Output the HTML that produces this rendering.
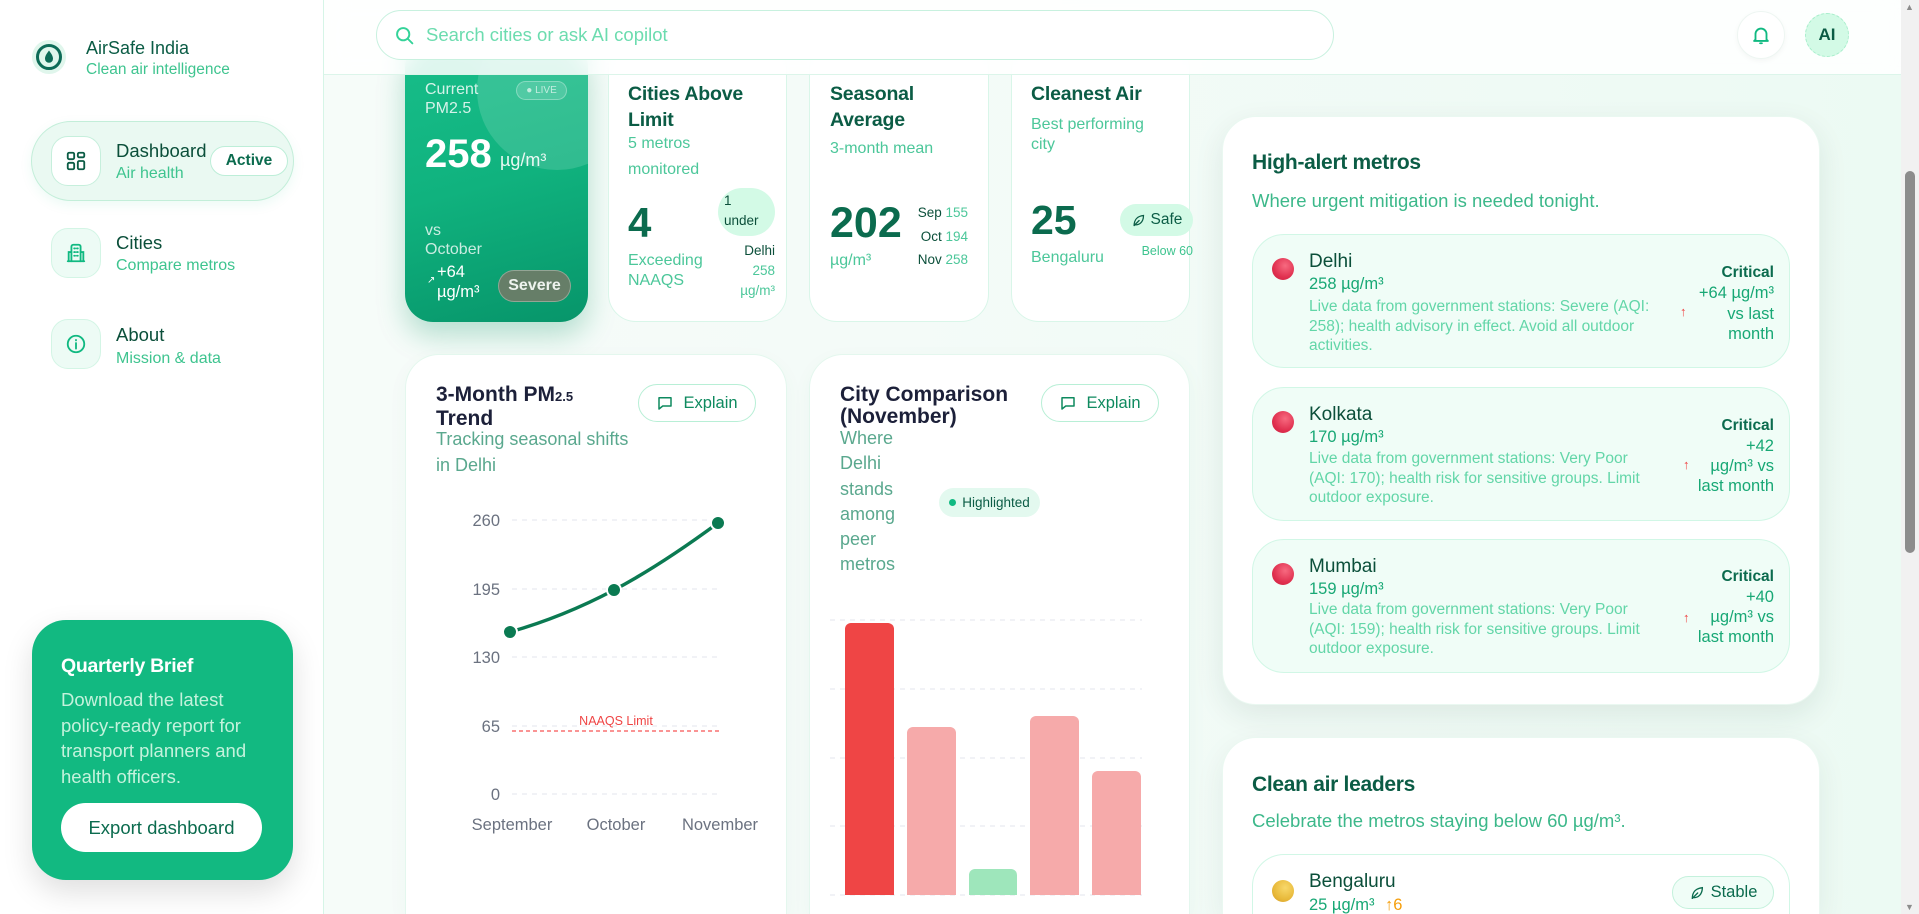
<!DOCTYPE html>
<html><head><meta charset="utf-8">
<style>
*{box-sizing:border-box;margin:0;padding:0}
html,body{width:1919px;height:914px;overflow:hidden;font-family:"Liberation Sans",Arial,sans-serif;}
#root{position:relative;width:1919px;height:914px;overflow:hidden;background:linear-gradient(90deg,#f8fcfa 0%,#f4fbf8 45%,#ecfaf3 100%);}
.a{position:absolute}
.t{position:absolute;white-space:nowrap}
.card{position:absolute;background:#fff;border:1.5px solid #d9f6e9;border-radius:28px}
.dk{color:#0b4f3a}
.gr{color:#3ec48f}
.btn{position:absolute;background:#fff;border:1.5px solid #b8efd6;border-radius:19px;display:flex;align-items:center;justify-content:center;gap:9px;color:#0e8a5f;font-size:16.5px}
.item{position:absolute;left:1252px;width:538px;height:134px;border-radius:32px;background:#f0fdf7;border:1.5px solid #d1f7e6}
.dot{position:absolute;width:22px;height:22px;border-radius:50%;background:radial-gradient(circle at 60% 35%,#f76a80 0%,#e0304f 60%,#c81e3f 100%)}
</style></head><body>
<div id="root">

<!-- sidebar -->
<div class="a" style="left:0;top:0;width:324px;height:914px;background:#fff;border-right:1px solid #d6f5e7"></div>
<svg class="a" style="left:32px;top:40px" width="34" height="34" viewBox="0 0 34 34"><circle cx="17" cy="17" r="17" fill="#e0f6ec"/><circle cx="17" cy="17" r="11.5" fill="none" stroke="#0d6b57" stroke-width="3"/><path d="M17 10.5 C14.5 14 13 16 13 18.8 a4 4 0 0 0 8 0 C21 16 19.5 14 17 10.5Z" fill="#0d6b57"/></svg>
<div class="t" style="left:86px;top:37px;font-size:18px;line-height:22px;color:#0b5c45">AirSafe India</div>
<div class="t gr" style="left:86px;top:61px;font-size:15.5px;line-height:18px">Clean air intelligence</div>

<div class="a" style="left:31px;top:121px;width:263px;height:80px;border-radius:40px;background:#eaf9f2;border:1.5px solid #c3eed9;box-shadow:0 4px 12px rgba(16,185,129,.08)"></div>
<div class="a" style="left:51px;top:136px;width:50px;height:50px;border-radius:17px;background:#fff;border:1.5px solid #c6efdc;display:flex;align-items:center;justify-content:center">
<svg width="22" height="22" viewBox="0 0 24 24" fill="none" stroke="#0b5c45" stroke-width="2"><rect x="3" y="3" width="7" height="7" rx="1.5"/><rect x="14" y="3" width="7" height="5" rx="1.5"/><rect x="3" y="14" width="7" height="7" rx="1.5"/><rect x="14" y="12" width="7" height="9" rx="1.5"/></svg></div>
<div class="t dk" style="left:116px;top:140px;font-size:18.5px;line-height:22px">Dashboard</div>
<div class="t gr" style="left:116px;top:165px;font-size:16px;line-height:18px">Air health</div>
<div class="a" style="left:210px;top:146px;width:78px;height:30px;border-radius:15px;background:#fff;border:1.5px solid #bdeed8;text-align:center;font-size:15.5px;line-height:27px;font-weight:bold;color:#0b6b4e">Active</div>

<div class="a" style="left:51px;top:228px;width:50px;height:50px;border-radius:17px;background:#edfbf5;border:1.5px solid #d3f5e5;display:flex;align-items:center;justify-content:center">
<svg width="22" height="22" viewBox="0 0 24 24" fill="none" stroke="#10b981" stroke-width="2" stroke-linecap="round"><path d="M7 21V5a2 2 0 0 1 2-2h6a2 2 0 0 1 2 2v16"/><path d="M3 21h18"/><path d="M10 7h1M13 7h1M10 11h1M13 11h1M10 15h1M13 15h1"/><path d="M4 21V11h3M20 21V11h-3"/></svg></div>
<div class="t dk" style="left:116px;top:232px;font-size:18.5px;line-height:22px">Cities</div>
<div class="t gr" style="left:116px;top:257px;font-size:16px;line-height:18px">Compare metros</div>

<div class="a" style="left:51px;top:319px;width:50px;height:50px;border-radius:17px;background:#edfbf5;border:1.5px solid #d3f5e5;display:flex;align-items:center;justify-content:center">
<svg width="22" height="22" viewBox="0 0 24 24" fill="none" stroke="#10b981" stroke-width="2" stroke-linecap="round"><circle cx="12" cy="12" r="9"/><path d="M12 11v6M12 7.5v.5"/></svg></div>
<div class="t dk" style="left:116px;top:324px;font-size:18.5px;line-height:22px">About</div>
<div class="t gr" style="left:116px;top:350px;font-size:16px;line-height:18px">Mission &amp; data</div>

<div class="a" style="left:32px;top:620px;width:261px;height:260px;border-radius:34px;background:#12b981;box-shadow:0 12px 30px rgba(0,0,0,.13)"></div>
<div class="t" style="left:61px;top:655px;font-size:19.5px;line-height:22px;font-weight:bold;color:#fff;letter-spacing:-.3px">Quarterly Brief</div>
<div class="t" style="left:61px;top:687px;font-size:18.5px;line-height:25.5px;color:#c4f2dc">Download the latest<br>policy-ready report for<br>transport planners and<br>health officers.</div>
<div class="a" style="left:61px;top:803px;width:201px;height:49px;border-radius:25px;background:#fff;text-align:center;line-height:49px;font-size:18.5px;color:#0b6b4e">Export dashboard</div>

<!-- KPI card 1 -->
<div class="a" style="left:405px;top:40px;width:183px;height:282px;border-radius:28px;background:linear-gradient(165deg,#18be8a 0%,#10b27e 50%,#07956a 100%);box-shadow:0 14px 28px rgba(16,150,100,.28);overflow:hidden">
<div class="a" style="left:72px;top:-30px;width:160px;height:160px;border-radius:50%;background:rgba(255,255,255,.14)"></div></div>
<div class="t" style="left:425px;top:80px;font-size:16px;line-height:19px;color:rgba(255,255,255,.82)">Current<br>PM2.5</div>
<div class="a" style="left:516px;top:81px;width:51px;height:19px;border-radius:10px;background:rgba(255,255,255,.14);border:1px solid rgba(255,255,255,.3);text-align:center;font-size:10px;line-height:17px;color:rgba(255,255,255,.65)">● LIVE</div>
<div class="t" style="left:425px;top:131px;font-size:40px;line-height:46px;font-weight:bold;color:#fff">258</div>
<div class="t" style="left:500px;top:150px;font-size:18px;line-height:20px;color:rgba(255,255,255,.9)">µg/m³</div>
<div class="t" style="left:425px;top:221px;font-size:16px;line-height:19px;color:rgba(255,255,255,.78)">vs<br>October</div>
<div class="t" style="left:427px;top:275px;font-size:10px;line-height:12px;color:#fff">↗</div>
<div class="t" style="left:437px;top:262px;font-size:16.5px;line-height:20px;color:#fff">+64<br>µg/m³</div>
<div class="a" style="left:498px;top:270px;width:73px;height:32px;border-radius:16px;background:#667e68;border:1.5px solid rgba(255,255,255,.3);text-align:center;font-size:16px;line-height:29px;font-weight:bold;color:#eef3ee">Severe</div>

<!-- KPI card 2 -->
<div class="card" style="left:608px;top:40px;width:179px;height:282px"></div>
<div class="t" style="left:628px;top:81px;font-size:19.5px;line-height:26px;font-weight:bold;color:#0b5c45;letter-spacing:-.2px">Cities Above<br>Limit</div>
<div class="t" style="left:628px;top:131px;font-size:16px;line-height:26px;color:#4cc79a">5 metros<br>monitored</div>
<div class="t" style="left:628px;top:199px;font-size:42px;line-height:48px;font-weight:bold;color:#0b6b4e">4</div>
<div class="t" style="left:628px;top:251px;font-size:16px;line-height:19.5px;color:#4cc79a">Exceeding<br>NAAQS</div>
<div class="a" style="left:718px;top:188px;width:57px;height:48px;border-radius:24px;background:#d3fae6"></div>
<div class="t dk" style="left:724px;top:191px;font-size:13.5px;line-height:20px">1<br>under</div>
<div class="a" style="left:690px;top:241px;width:85px;text-align:right;font-size:13.5px;line-height:20px;color:#4cc79a"><span class="dk">Delhi</span><br>258<br>µg/m³</div>

<!-- KPI card 3 -->
<div class="card" style="left:809px;top:40px;width:180px;height:282px"></div>
<div class="t" style="left:830px;top:81px;font-size:19.5px;line-height:26px;font-weight:bold;color:#0b5c45;letter-spacing:-.2px">Seasonal<br>Average</div>
<div class="t" style="left:830px;top:139px;font-size:16px;line-height:20px;color:#4cc79a">3-month mean</div>
<div class="t" style="left:830px;top:199px;font-size:43px;line-height:48px;font-weight:bold;color:#0b6b4e">202</div>
<div class="t" style="left:830px;top:251px;font-size:16px;line-height:20px;color:#4cc79a">µg/m³</div>
<div class="a" style="left:890px;top:201px;width:78px;text-align:right;font-size:13.5px;line-height:23.5px;color:#4cc79a"><span class="dk">Sep</span> 155<br><span class="dk">Oct</span> 194<br><span class="dk">Nov</span> 258</div>

<!-- KPI card 4 -->
<div class="card" style="left:1011px;top:40px;width:179px;height:282px"></div>
<div class="t" style="left:1031px;top:81px;font-size:19.5px;line-height:26px;font-weight:bold;color:#0b5c45;letter-spacing:-.2px">Cleanest Air</div>
<div class="t" style="left:1031px;top:115px;font-size:16px;line-height:19.5px;color:#4cc79a">Best performing<br>city</div>
<div class="t" style="left:1031px;top:196px;font-size:41px;line-height:48px;font-weight:bold;color:#0b6b4e">25</div>
<div class="t" style="left:1031px;top:248px;font-size:16px;line-height:20px;color:#4cc79a">Bengaluru</div>
<div class="a" style="left:1120px;top:204px;width:73px;height:32px;border-radius:16px;background:#d3fae6;display:flex;align-items:center;justify-content:center;gap:5px;font-size:15.5px;color:#0b5c45">
<svg width="15" height="15" viewBox="0 0 24 24" fill="none" stroke="#0b5c45" stroke-width="2" stroke-linecap="round"><path d="M5 20c0-9 5-15 15-16 0 10-6 15-13 15"/><path d="M5 20l8-8"/></svg>Safe</div>
<div class="a" style="left:1110px;top:242px;width:83px;text-align:right;font-size:12.5px;line-height:18px;color:#3ec48f">Below 60</div>

<!-- chart cards -->
<div class="a" style="left:405px;top:354px;width:382px;height:560px;border-radius:34px 34px 0 0;background:#fff;border:1px solid #e4f7ee;border-bottom:none;box-shadow:0 6px 20px rgba(16,120,80,.04)"></div>
<div class="t" style="left:436px;top:384px;font-size:21px;line-height:22px;font-weight:bold;color:#1c2039">3-Month PM<span style="font-size:13px">2.5</span><br>Trend</div>
<div class="t" style="left:436px;top:426px;font-size:18px;line-height:26px;color:#5aa88e">Tracking seasonal shifts<br>in Delhi</div>
<div class="btn" style="left:638px;top:384px;width:118px;height:38px"><svg width="18" height="18" viewBox="0 0 24 24" fill="none" stroke="#0e8a5f" stroke-width="2" stroke-linejoin="round"><path d="M4 5h16v11H9l-5 4z"/></svg>Explain</div>

<div class="a" style="left:809px;top:354px;width:381px;height:560px;border-radius:34px 34px 0 0;background:#fff;border:1px solid #e4f7ee;border-bottom:none;box-shadow:0 6px 20px rgba(16,120,80,.04)"></div>
<div class="t" style="left:840px;top:384px;font-size:21px;line-height:22px;font-weight:bold;color:#1c2039">City Comparison<br>(November)</div>
<div class="t" style="left:840px;top:426px;font-size:18px;line-height:25.3px;color:#5aa88e">Where<br>Delhi<br>stands<br>among<br>peer<br>metros</div>
<div class="a" style="left:939px;top:488px;width:101px;height:29px;border-radius:15px;background:#e3f9ef;display:flex;align-items:center;justify-content:center;gap:6px;font-size:13.5px;color:#0b5c45"><span style="width:7px;height:7px;border-radius:50%;background:#10b981;display:inline-block"></span>Highlighted</div>
<div class="btn" style="left:1041px;top:384px;width:118px;height:38px"><svg width="18" height="18" viewBox="0 0 24 24" fill="none" stroke="#0e8a5f" stroke-width="2" stroke-linejoin="round"><path d="M4 5h16v11H9l-5 4z"/></svg>Explain</div>

<svg class="a" style="left:0;top:0" width="1919" height="914" viewBox="0 0 1919 914">
<g stroke="#e3e6ee" stroke-width="1" stroke-dasharray="5 5">
<line x1="512" y1="520" x2="720" y2="520"/><line x1="512" y1="589" x2="720" y2="589"/><line x1="512" y1="657" x2="720" y2="657"/><line x1="512" y1="726" x2="720" y2="726"/><line x1="512" y1="794" x2="720" y2="794"/>
<line x1="830" y1="620" x2="1142" y2="620"/><line x1="830" y1="689" x2="1142" y2="689"/><line x1="830" y1="758" x2="1142" y2="758"/><line x1="830" y1="826" x2="1142" y2="826"/><line x1="830" y1="895" x2="1142" y2="895"/>
</g>
<g font-family="Liberation Sans, Arial, sans-serif" font-size="16.5" fill="#6b7280" text-anchor="end">
<text x="500" y="526">260</text><text x="500" y="595">195</text><text x="500" y="663">130</text><text x="500" y="732">65</text><text x="500" y="800">0</text>
</g>
<line x1="512" y1="731" x2="720" y2="731" stroke="#f87171" stroke-width="1.6" stroke-dasharray="4 3"/>
<text x="616" y="725" font-family="Liberation Sans, Arial, sans-serif" font-size="12.5" fill="#ef4444" text-anchor="middle">NAAQS Limit</text>
<path d="M510,632 C545,622 580,608 614,590 C650,571 684,548 718,523" fill="none" stroke="#0b7a52" stroke-width="3.5" stroke-linecap="round"/>
<g fill="#0b7a52" stroke="#fff" stroke-width="2"><circle cx="510" cy="632" r="7"/><circle cx="614" cy="590" r="7"/><circle cx="718" cy="523" r="7"/></g>
<g font-family="Liberation Sans, Arial, sans-serif" font-size="16.5" fill="#6b7280" text-anchor="middle">
<text x="512" y="830">September</text><text x="616" y="830">October</text><text x="720" y="830">November</text>
</g>
<path d="M845,895 V629 a6,6 0 0 1 6,-6 H888 a6,6 0 0 1 6,6 V895Z" fill="#ef4545"/>
<path d="M907,895 V733 a6,6 0 0 1 6,-6 H950 a6,6 0 0 1 6,6 V895Z" fill="#f6aaaa"/>
<path d="M969,895 V875 a6,6 0 0 1 6,-6 H1011 a6,6 0 0 1 6,6 V895Z" fill="#9ee6bb"/>
<path d="M1030,895 V722 a6,6 0 0 1 6,-6 H1073 a6,6 0 0 1 6,6 V895Z" fill="#f6aaaa"/>
<path d="M1092,895 V777 a6,6 0 0 1 6,-6 H1135 a6,6 0 0 1 6,6 V895Z" fill="#f6aaaa"/>
</svg>

<!-- right panel high alert -->
<div class="a" style="left:1222px;top:116px;width:598px;height:589px;border-radius:34px;background:#fff;border:1px solid #eaf8f1;box-shadow:0 10px 30px rgba(20,60,40,.09)"></div>
<div class="t" style="left:1252px;top:150px;font-size:21px;line-height:26px;font-weight:bold;color:#0b5c45;letter-spacing:-.3px">High-alert metros</div>
<div class="t" style="left:1252px;top:190px;font-size:18.5px;line-height:22px;color:#3cb88a">Where urgent mitigation is needed tonight.</div>

<div class="item" style="top:234px"></div>
<div class="dot" style="left:1272px;top:258px"></div>
<div class="t dk" style="left:1309px;top:251px;font-size:19px;line-height:22px">Delhi</div>
<div class="t" style="left:1309px;top:274px;font-size:16.5px;line-height:20px;color:#18a875">258 µg/m³</div>
<div class="t" style="left:1309px;top:297px;font-size:15.5px;line-height:19.5px;color:#63d6a8">Live data from government stations: Severe (AQI:<br>258); health advisory in effect. Avoid all outdoor<br>activities.</div>
<div class="t" style="left:1680px;top:303px;font-size:13px;line-height:18px;color:#ef4444">↑</div>
<div class="a" style="left:1690px;top:262px;width:84px;text-align:right;font-size:16.5px;line-height:20.3px;color:#18a875"><b style="color:#0b6b4e;font-size:15.5px">Critical</b><br>+64 µg/m³<br>vs last<br>month</div>

<div class="item" style="top:387px"></div>
<div class="dot" style="left:1272px;top:411px"></div>
<div class="t dk" style="left:1309px;top:404px;font-size:19px;line-height:22px">Kolkata</div>
<div class="t" style="left:1309px;top:427px;font-size:16.5px;line-height:20px;color:#18a875">170 µg/m³</div>
<div class="t" style="left:1309px;top:449px;font-size:15.5px;line-height:19.5px;color:#63d6a8">Live data from government stations: Very Poor<br>(AQI: 170); health risk for sensitive groups. Limit<br>outdoor exposure.</div>
<div class="t" style="left:1683px;top:456px;font-size:13px;line-height:18px;color:#ef4444">↑</div>
<div class="a" style="left:1690px;top:415px;width:84px;text-align:right;font-size:16.5px;line-height:20px;color:#18a875"><b style="color:#0b6b4e;font-size:15.5px">Critical</b><br>+42<br>µg/m³ vs<br>last month</div>

<div class="item" style="top:539px"></div>
<div class="dot" style="left:1272px;top:563px"></div>
<div class="t dk" style="left:1309px;top:556px;font-size:19px;line-height:22px">Mumbai</div>
<div class="t" style="left:1309px;top:579px;font-size:16.5px;line-height:20px;color:#18a875">159 µg/m³</div>
<div class="t" style="left:1309px;top:600px;font-size:15.5px;line-height:19.5px;color:#63d6a8">Live data from government stations: Very Poor<br>(AQI: 159); health risk for sensitive groups. Limit<br>outdoor exposure.</div>
<div class="t" style="left:1683px;top:609px;font-size:13px;line-height:18px;color:#ef4444">↑</div>
<div class="a" style="left:1690px;top:566px;width:84px;text-align:right;font-size:16.5px;line-height:20px;color:#18a875"><b style="color:#0b6b4e;font-size:15.5px">Critical</b><br>+40<br>µg/m³ vs<br>last month</div>

<!-- clean air leaders -->
<div class="a" style="left:1222px;top:737px;width:598px;height:177px;border-radius:34px 34px 0 0;background:#fff;border:1px solid #eaf8f1;border-bottom:none;box-shadow:0 10px 30px rgba(20,60,40,.07)"></div>
<div class="t" style="left:1252px;top:772px;font-size:21px;line-height:26px;font-weight:bold;color:#0b5c45;letter-spacing:-.3px">Clean air leaders</div>
<div class="t" style="left:1252px;top:810px;font-size:18.5px;line-height:22px;color:#3cb88a">Celebrate the metros staying below 60 µg/m³.</div>
<div class="a" style="left:1252px;top:854px;width:538px;height:60px;border-radius:32px 32px 0 0;background:#fff;border:1.5px solid #d1f7e6;border-bottom:none"></div>
<div class="a" style="left:1272px;top:880px;width:22px;height:22px;border-radius:50%;background:radial-gradient(circle at 60% 35%,#f8d86a 0%,#e8b93a 60%,#d49a25 100%)"></div>
<div class="t dk" style="left:1309px;top:871px;font-size:19px;line-height:22px">Bengaluru</div>
<div class="t" style="left:1309px;top:896px;font-size:16.5px;line-height:18px;color:#18a875">25 µg/m³ <span style="color:#f59e0b;margin-left:6px">↑6</span></div>
<div class="a" style="left:1672px;top:876px;width:102px;height:33px;border-radius:17px;background:#f0fdf7;border:1.5px solid #c4f1dc;display:flex;align-items:center;justify-content:center;gap:6px;font-size:16.5px;color:#0b6b4e">
<svg width="16" height="16" viewBox="0 0 24 24" fill="none" stroke="#0b6b4e" stroke-width="2" stroke-linecap="round"><path d="M5 20c0-9 5-15 15-16 0 10-6 15-13 15"/><path d="M5 20l8-8"/></svg>Stable</div>

<!-- header -->
<div class="a" style="left:324px;top:0;width:1577px;height:75px;background:rgba(255,255,255,.86);backdrop-filter:blur(12px);-webkit-backdrop-filter:blur(12px);border-bottom:1px solid #dcf5ea;z-index:10"></div>
<div class="a" style="left:376px;top:10px;width:958px;height:50px;border-radius:25px;background:#fff;border:1.5px solid #c8f1df;z-index:11"></div>
<svg class="a" style="left:394px;top:25px;z-index:11" width="21" height="21" viewBox="0 0 24 24" fill="none" stroke="#34d399" stroke-width="2.2" stroke-linecap="round"><circle cx="10.5" cy="10.5" r="7"/><path d="M16 16l5 5"/></svg>
<div class="t" style="left:426px;top:24px;font-size:18.5px;line-height:22px;color:#6cdcaf;z-index:11">Search cities or ask AI copilot</div>
<div class="a" style="left:1737px;top:11px;width:48px;height:48px;border-radius:50%;background:#fff;border:1px solid #eef6f2;box-shadow:0 2px 6px rgba(0,0,0,.04);z-index:11;display:flex;align-items:center;justify-content:center">
<svg width="22" height="22" viewBox="0 0 24 24" fill="none" stroke="#10b981" stroke-width="2" stroke-linecap="round" stroke-linejoin="round"><path d="M6 17V11a6 6 0 0 1 12 0v6l1.5 1.5h-15z"/><path d="M11 21h2"/></svg></div>
<div class="a" style="left:1805px;top:13px;width:44px;height:44px;border-radius:50%;background:#d3fae6;border:1.5px dashed #a7eecb;z-index:11;text-align:center;line-height:41px;font-size:17px;font-weight:bold;color:#0b5c45">AI</div>

<!-- scrollbar -->
<div class="a" style="left:1901px;top:0;width:18px;height:914px;background:#f1f1f1;z-index:12"></div>
<div class="a" style="left:1905px;top:171px;width:10px;height:382px;border-radius:5px;background:#8c8c8c;z-index:13"></div>
<div class="t" style="left:1905px;top:2px;font-size:9px;line-height:10px;color:#8c8c8c;z-index:13">▲</div>
<div class="t" style="left:1905px;top:902px;font-size:9px;line-height:10px;color:#8c8c8c;z-index:13">▼</div>
</div>
</body></html>
